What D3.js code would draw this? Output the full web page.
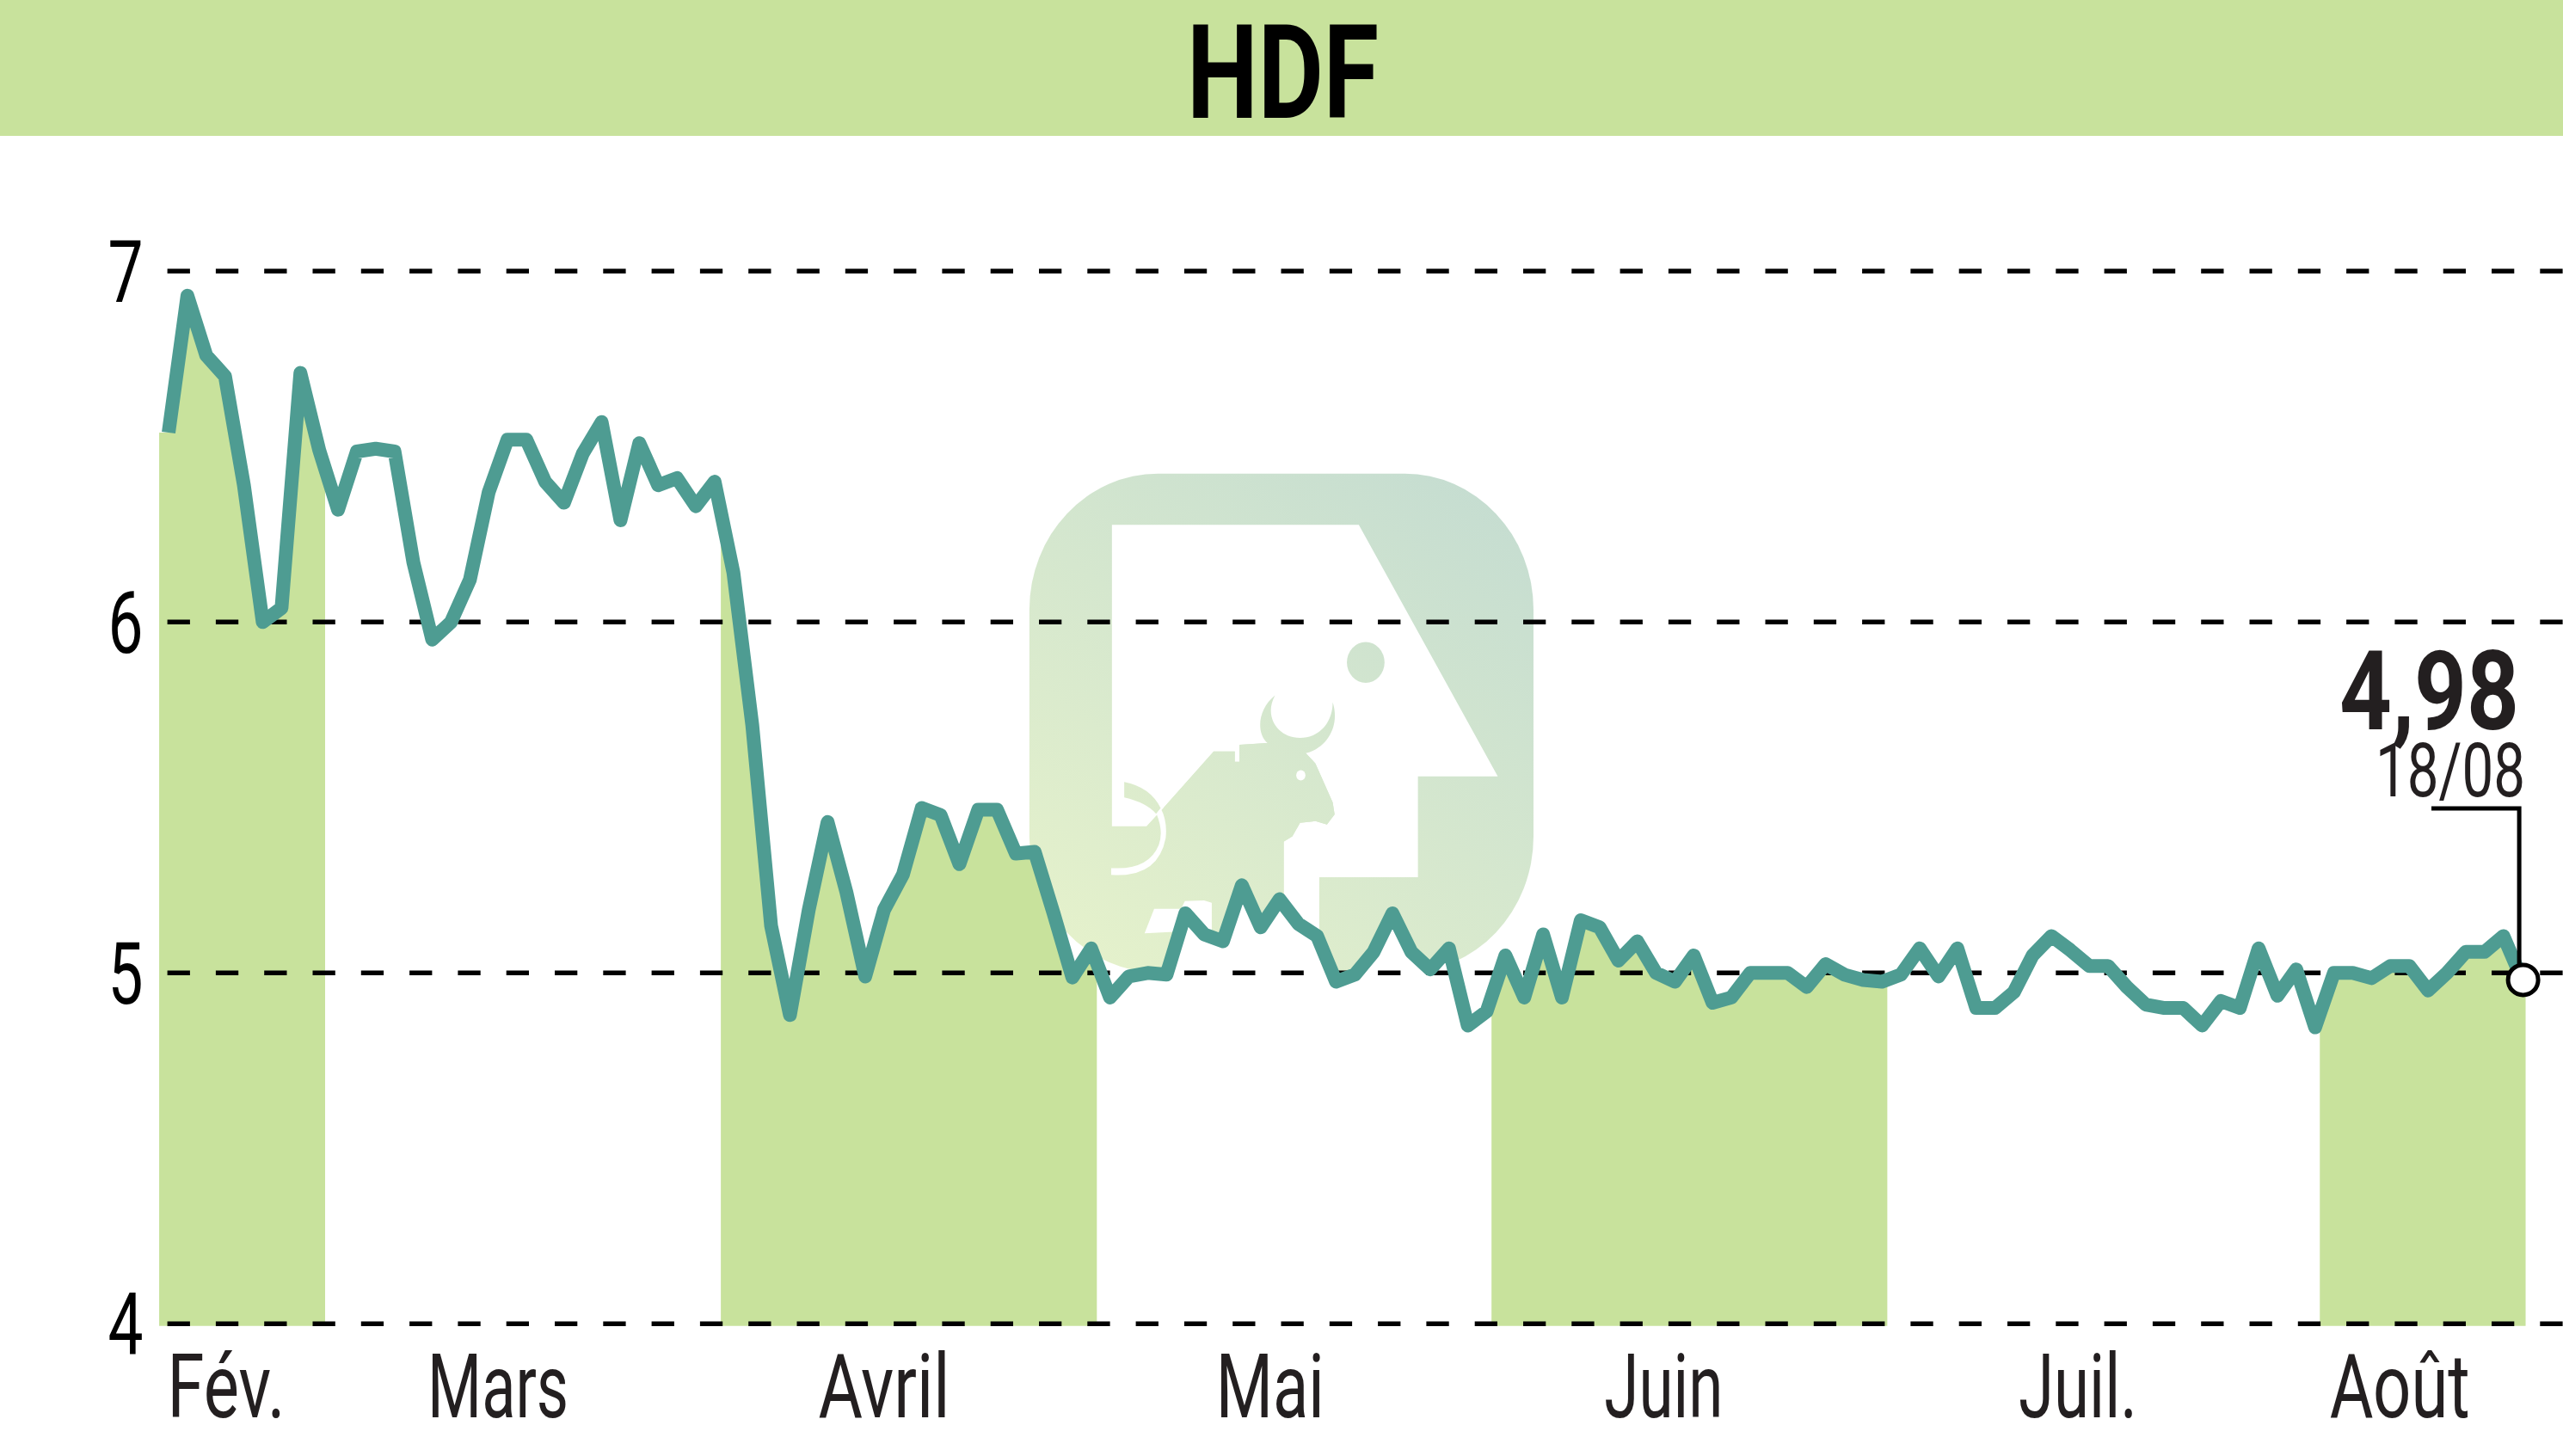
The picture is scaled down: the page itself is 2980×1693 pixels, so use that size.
<!DOCTYPE html>
<html><head><meta charset="utf-8">
<script src="https://cdnjs.cloudflare.com/ajax/libs/d3/7.8.5/d3.min.js"></script>
<style>html,body{margin:0;padding:0;background:#fff}svg{display:block}</style>
</head><body><div id="chart"></div>
<script>
const title = "HDF";
const prices = [6.54,6.93,6.76,6.70,6.39,6.00,6.04,6.71,6.49,6.32,6.486,6.494,6.486,6.17,5.95,6.00,6.12,6.37,6.52,6.52,
 6.40,6.34,6.48,6.57,6.29,6.51,6.39,6.41,6.33,6.40,6.14,5.706,5.134,4.88,5.18,5.43,5.23,4.99,5.18,5.28,
 5.47,5.45,5.31,5.465,5.465,5.34,5.345,5.17,4.987,5.07,4.93,4.99,5.00,4.995,5.17,5.11,5.09,5.25,5.13,5.21,
 5.14,5.105,4.975,4.995,5.06,5.17,5.06,5.01,5.07,4.85,4.89,5.05,4.93,5.11,4.93,5.15,5.13,5.035,5.09,5.00,
 4.975,5.05,4.915,4.93,5.00,5.00,5.00,4.96,5.025,4.995,4.98,4.975,4.995,5.07,4.99,5.07,4.90,4.90,4.945,5.05,
 5.105,5.065,5.02,5.02,4.96,4.91,4.90,4.90,4.85,4.92,4.90,5.07,4.935,5.01,4.845,5.00,5.00,4.985,5.02,5.02,
 4.95,5.00,5.06,5.06,5.105,4.98];
const yTicks = [4,5,6,7];
const months = ["Fév.","Mars","Avril","Mai","Juin","Juil.","Août"];
const monthCentres = [3.06,17.5,38,58.5,79.4,101.4,118.5];
const shadedMonths = [[-0.5,8.31],[29.33,49.3],[70.26,91.28],[114.25,125.18]];
const lastValue = "4,98";
const lastDate = "18/08";

// layout
const W=2980,H=1693, headerH=158;
const narrow = '"Liberation Sans Narrow","Roboto","Liberation Sans",sans-serif';
const monthWidths = [137,164,153,126,138,138,163];
const GREEN="#c8e29c", LINE="#4e9c92", INK="#231f20";

const x = d3.scaleLinear().domain([0,prices.length-1]).range([196,2932.6]);
const y = d3.scaleLinear().domain([4,7]).range([1539.3,315.3]);

const svg = d3.select("#chart").append("svg").attr("width",W).attr("height",H).attr("viewBox",`0 0 ${W} ${H}`);
const defs = svg.append("defs");

svg.append("rect").attr("width",W).attr("height",H).attr("fill","#fff");
svg.append("rect").attr("width",W).attr("height",headerH).attr("fill",GREEN);
svg.append("text").text(title).attr("x",1380).attr("y",137)
  .attr("font-family",narrow).attr("font-weight",700).attr("font-size",153)
  .attr("textLength",223).attr("lengthAdjust","spacingAndGlyphs").attr("fill","#000");

// watermark (decoration): coordinates in a local frame
const wm = svg.append("g").attr("transform","translate(1150,520) scale(0.4464,0.3953)");
const wgrad = defs.append("linearGradient").attr("id","wm2").attr("gradientUnits","userSpaceOnUse")
  .attr("x1",180).attr("y1",1540).attr("x2",1390).attr("y2",100);
wgrad.append("stop").attr("offset",0).attr("stop-color","#e6f2cb");
wgrad.append("stop").attr("offset",1).attr("stop-color","#c4dcd1");
const wfill="url(#wm2)";
wm.append("rect").attr("x",105).attr("y",78).attr("width",1313).attr("height",1467)
  .attr("rx",335).attr("ry",400).attr("fill",wfill);
wm.append("path").attr("fill","#fff").attr("d","M320,228 L963,228 L1325,968 L1117,968 L1117,1265 L860,1265 L860,1600 L768,1600 L768,1160 L790,1145 L810,1105 L850,1100 L880,1110 L900,1080 L895,1045 L850,930 L825,900 L720,870 L652,875 L652,925 L640,925 L640,895 L585,895 L455,1060 L410,1115 L320,1115 Z");
wm.append("path").attr("fill",wfill).attr("d","M745,730 C700,770 695,840 725,870 L652,875 L652,925 L640,925 L640,895 L585,895 L455,1060 L600,1160 L768,1160 L790,1145 L810,1105 L850,1100 L880,1110 L900,1080 L895,1045 L850,930 L825,900 C880,885 915,820 895,750 C895,810 860,855 810,855 C750,855 715,790 745,730 Z");
wm.append("ellipse").attr("cx",812).attr("cy",965).attr("rx",12).attr("ry",15).attr("fill","#fff");
wm.append("ellipse").attr("cx",981).attr("cy",633).attr("rx",49).attr("ry",60).attr("fill",wfill);
wm.append("path").attr("fill",wfill).attr("d","M352,985 Q420,1000 447,1062 L435,1078 Q410,1045 352,1030 Z");
wm.append("path").attr("fill","#fff").attr("d","M436,1078 Q455,1130 442,1170 Q415,1245 318,1238 L318,1258 Q440,1268 460,1150 Q465,1100 447,1062 Z");
wm.append("path").attr("fill","#fff").attr("d","M430,1358 L500,1358 L510,1335 L560,1333 L580,1340 L580,1420 L405,1430 Z");

const pts = prices.map((v,i)=>[i,v]);
const areaGen = d3.area().x(d=>x(d[0])).y0(y(4)+2.5).y1(d=>y(d[1]));
const extended = [[-0.5,prices[0]],...pts,[125.2,prices[prices.length-1]]];
// area under the curve hides the watermark; shaded months are green
svg.append("path").attr("d",areaGen(extended)).attr("fill","#fff");
shadedMonths.forEach((b,i)=>{
  defs.append("clipPath").attr("id","b"+i).append("rect")
    .attr("x",x(b[0])).attr("y",0).attr("width",x(b[1])-x(b[0])).attr("height",H);
  svg.append("path").attr("d",areaGen(extended)).attr("fill",GREEN).attr("clip-path",`url(#b${i})`);
});

// y axis with dashed grid
const ax = svg.append("g").attr("transform","translate(194.6,0)")
  .call(d3.axisLeft(y).tickValues(yTicks).tickFormat(d3.format("d")).tickSize(-(W-194.6)).tickPadding(28).offset(0));
ax.select(".domain").remove();
ax.selectAll("line").attr("stroke","#000").attr("stroke-width",5.5).attr("stroke-dasharray","26.3 30");
ax.selectAll("text").attr("font-family",narrow).attr("font-size",100).attr("fill","#000").attr("dy","0.355em")
  .attr("textLength",41).attr("lengthAdjust","spacingAndGlyphs");

// line
svg.append("path").attr("d",d3.line().x(d=>x(d[0])).y(d=>y(d[1]))(pts))
  .attr("fill","none").attr("stroke",LINE).attr("stroke-width",16).attr("stroke-linejoin","round").attr("stroke-linecap","butt");

// months
svg.selectAll(".month").data(months).join("text").attr("class","month").text(d=>d)
  .attr("x",(d,i)=>x(monthCentres[i])).attr("y",1648).attr("text-anchor","middle")
  .attr("font-family",narrow).attr("font-size",103).attr("fill",INK)
  .attr("textLength",(d,i)=>monthWidths[i]).attr("lengthAdjust","spacingAndGlyphs");

// last value
svg.append("text").text(lastValue).attr("x",2929).attr("y",848).attr("text-anchor","end")
  .attr("font-family",narrow).attr("font-weight",700).attr("font-size",128).attr("fill",INK)
  .attr("textLength",209).attr("lengthAdjust","spacingAndGlyphs");
svg.append("text").text(lastDate).attr("x",2936).attr("y",926).attr("text-anchor","end")
  .attr("font-family",narrow).attr("font-size",88).attr("fill",INK)
  .attr("textLength",174).attr("lengthAdjust","spacingAndGlyphs");
const lx = x(prices.length-1), ly = y(prices[prices.length-1]);
svg.append("path").attr("d",`M2827,940 H${lx-3.5} V${ly}`).attr("fill","none").attr("stroke","#000").attr("stroke-width",5);
svg.append("circle").attr("cx",lx+1).attr("cy",ly).attr("r",17.5).attr("fill","#fff").attr("stroke","#000").attr("stroke-width",5);
</script></body></html>
